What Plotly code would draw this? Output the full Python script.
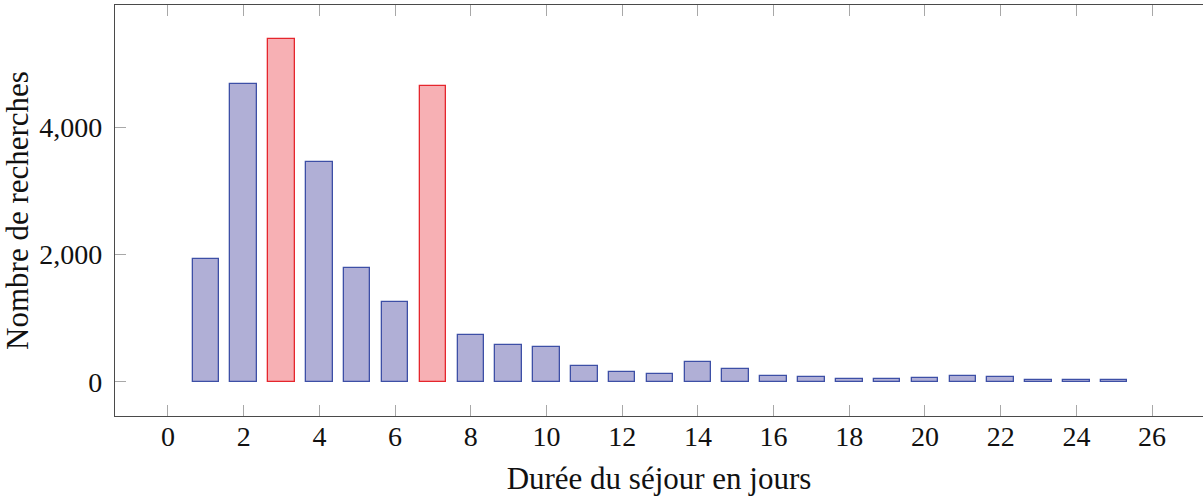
import plotly.graph_objects as go

# Search counts per length of stay (days)
days = list(range(1, 26))
searches = [1925, 4670, 5378, 3446, 1783, 1252, 4652, 740, 578, 543,
            252, 158, 121, 305, 195, 95, 69, 47, 47, 65,
            85, 79, 22, 22, 20]
highlight_days = [3, 7]

x_ticks = list(range(0, 27, 2))
y_ticks = [0, 2000, 4000]

blue_fill, blue_line = "#b0afd6", "#3d4fa6"
red_fill, red_line = "#f7b0b4", "#e5262d"

fills = [red_fill if d in highlight_days else blue_fill for d in days]
lines = [red_line if d in highlight_days else blue_line for d in days]

font_family = "Liberation Serif, DejaVu Serif, serif"
spine = "#4a4a4a"
tick_col = "#a8a8a8"

fig = go.Figure()
fig.add_trace(go.Bar(
    x=days, y=searches, width=0.7,
    marker=dict(color=fills, line=dict(color=lines, width=1.3)),
    hoverinfo="x+y", showlegend=False,
))

fig.update_layout(
    width=1203, height=496,
    margin=dict(l=115, r=0, t=5, b=80),
    paper_bgcolor="white", plot_bgcolor="white",
    font=dict(family=font_family, size=28, color="#111"),
    bargap=0,
    xaxis=dict(
        range=[-1.4, 27.345],
        tickvals=x_ticks, ticktext=[str(v) for v in x_ticks],
        ticks="inside", ticklen=11, tickwidth=1.2, tickcolor=tick_col,
        showline=True, linecolor=spine, linewidth=1.4, mirror="ticks",
        showgrid=False, zeroline=False,
        ticklabelstandoff=-5,
        title=dict(text="Durée du séjour en jours", standoff=16,
                   font=dict(family=font_family, size=31)),
    ),
    yaxis=dict(
        range=[-538, 5918],
        tickvals=y_ticks, ticktext=[f"{v:,}" for v in y_ticks],
        ticks="inside", ticklen=11, tickwidth=1.2, tickcolor=tick_col,
        showline=True, linecolor=spine, linewidth=1.4, mirror=False,
        showgrid=False, zeroline=False,
        ticklabelstandoff=6,
        title=dict(text="Nombre de recherches", standoff=5,
                   font=dict(family=font_family, size=31)),
    ),
    yaxis2=dict(
        range=[-538, 5918], overlaying="y", side="right",
        tickvals=y_ticks, showticklabels=False,
        ticks="inside", ticklen=11, tickwidth=1.2, tickcolor=tick_col,
        showline=False, showgrid=False, zeroline=False,
    ),
)

fig.write_html("out.html")
